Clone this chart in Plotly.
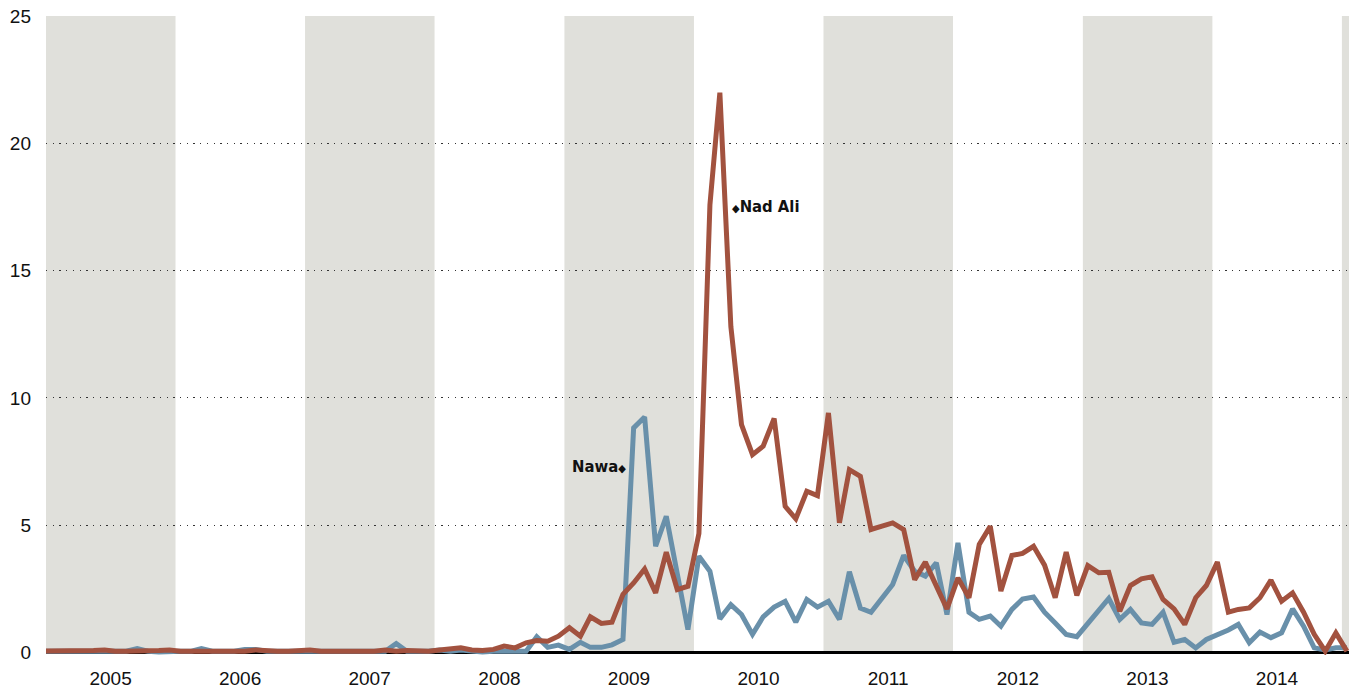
import plotly.graph_objects as go
import pandas as pd

# Monthly values, Dec 2004 .. Jan 2015 (mid-month)
months = pd.date_range("2004-12-01", "2015-01-01", freq="MS") + pd.Timedelta(days=14)

nawa = [0.05,
        0.05, 0.05, 0.05, 0.05, 0.05, 0.05, 0.05, 0.05, 0.15, 0.05, 0.02, 0.05,
        0.05, 0.05, 0.15, 0.05, 0.05, 0.05, 0.12, 0.12, 0.05, 0.05, 0.05, 0.05,
        0.05, 0.05, 0.05, 0.05, 0.05, 0.05, 0.05, 0.05, 0.35, 0.05, 0.05, 0.05,
        0.1, 0.05, 0.1, 0.05, 0.02, 0.05, 0.05, 0.02, 0.05, 0.62, 0.2, 0.29,
        0.12, 0.4, 0.2, 0.2, 0.3, 0.51, 8.82, 9.25, 4.17, 5.35, 3.05, 0.9,
        3.78, 3.19, 1.32, 1.88, 1.49, 0.71, 1.4, 1.78, 2.01, 1.19, 2.08, 1.78,
        2.01, 1.3, 3.17, 1.74, 1.58, 2.15, 2.67, 3.81, 3.19, 3.0, 3.52, 1.49,
        4.3, 1.58, 1.3, 1.43, 1.03, 1.69, 2.1, 2.18, 1.58, 1.16, 0.71, 0.62,
        1.14, 1.69, 2.12, 1.3, 1.69, 1.16, 1.1, 1.58, 0.4, 0.51, 0.18, 0.51,
        0.67, 0.88, 1.1, 0.38, 0.8, 0.58, 0.77, 1.71, 1.03, 0.18, 0.1, 0.18,
        0.18]

nad_ali = [0.05,
           0.05, 0.05, 0.05, 0.05, 0.08, 0.1, 0.05, 0.05, 0.05, 0.05, 0.08, 0.1,
           0.05, 0.05, 0.05, 0.08, 0.05, 0.05, 0.05, 0.1, 0.05, 0.05, 0.05, 0.08,
           0.1, 0.05, 0.05, 0.05, 0.08, 0.08, 0.05, 0.1, 0.05, 0.08, 0.05, 0.05,
           0.1, 0.15, 0.18, 0.1, 0.08, 0.12, 0.25, 0.18, 0.38, 0.47, 0.44, 0.64,
           0.97, 0.64, 1.4, 1.14, 1.19, 2.28, 2.73, 3.28, 2.34, 3.94, 2.47, 2.6,
           4.67, 17.58, 21.99, 12.8, 8.95, 7.77, 8.1, 9.19, 5.74, 5.25, 6.33, 6.16,
           9.41, 5.09, 7.18, 6.92, 4.83, 4.96, 5.09, 4.83, 2.86, 3.55, 2.6, 1.71,
           2.93, 2.15, 4.24, 4.96, 2.41, 3.81, 3.89, 4.17, 3.43, 2.15, 3.94, 2.24,
           3.41, 3.13, 3.15, 1.62, 2.63, 2.89, 2.97, 2.08, 1.71, 1.1, 2.15, 2.63,
           3.55, 1.58, 1.69, 1.75, 2.15, 2.84, 2.01, 2.34, 1.58, 0.71, 0.05, 0.77,
           0.05]

years = list(range(2005, 2015))
shaded_years = [2005, 2007, 2009, 2011, 2013, 2015]
y_ticks = [0, 5, 10, 15, 20, 25]

RED = "#a2523f"
BLUE = "#6990aa"
BAND = "#e0e0db"
LABEL_FONT = "Liberation Sans Narrow, DejaVu Sans Condensed, Arial Narrow, sans-serif"
TICK_FONT = "Liberation Sans, Arial, sans-serif"

fig = go.Figure()
fig.add_trace(go.Scatter(x=months, y=nawa, mode="lines", name="Nawa",
                         line=dict(color=BLUE, width=5), hoverinfo="skip"))
fig.add_trace(go.Scatter(x=months, y=nad_ali, mode="lines", name="Nad Ali",
                         line=dict(color=RED, width=5), hoverinfo="skip"))

for yr in shaded_years:
    fig.add_shape(type="rect", xref="x", yref="y",
                  x0=f"{yr}-01-01", x1=f"{yr + 1}-01-01", y0=0, y1=25,
                  fillcolor=BAND, line_width=0, layer="below")

fig.add_annotation(x="2009-06-28", y=7.3, xref="x", yref="y",
                   text="<b>Nawa</b><span style='font-size:11px'>◆</span>",
                   showarrow=False, xanchor="right", yanchor="middle",
                   font=dict(family=LABEL_FONT, size=16.5, color="#111"))
fig.add_annotation(x="2010-04-13", y=17.5, xref="x", yref="y",
                   text="<span style='font-size:11px'>◆</span><b>Nad Ali</b>",
                   showarrow=False, xanchor="left", yanchor="middle",
                   font=dict(family=LABEL_FONT, size=16.5, color="#111"))

fig.update_layout(
    width=1349, height=691,
    margin=dict(l=46, r=0, t=16, b=36),
    plot_bgcolor="white", paper_bgcolor="white",
    showlegend=False,
    xaxis=dict(
        type="date",
        range=["2005-01-01", "2015-01-21"],
        tickvals=[f"{y}-07-02" for y in years],
        ticktext=[str(y) for y in years],
        showgrid=False, zeroline=False, ticks="",
        ticklabelstandoff=10,
        tickfont=dict(family=TICK_FONT, size=19, color="#111"),
        fixedrange=True,
    ),
    yaxis=dict(
        range=[-0.1, 25],
        tickvals=y_ticks,
        ticktext=[str(v) for v in y_ticks],
        showgrid=True, gridcolor="#333", gridwidth=1, griddash="1.3px,5.4px",
        zeroline=True, zerolinecolor="black", zerolinewidth=3,
        ticks="", ticklabelstandoff=14,
        tickfont=dict(family=TICK_FONT, size=19, color="#111"),
        fixedrange=True,
    ),
)

fig.write_html("out.html",
               config={"displayModeBar": False},
               post_script="document.body.style.margin='0';document.body.style.overflow='hidden';")
